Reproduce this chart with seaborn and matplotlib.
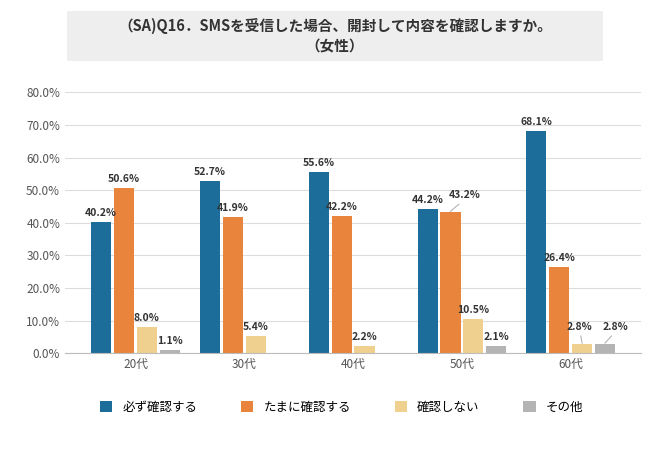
import matplotlib
matplotlib.use("Agg")
import matplotlib.pyplot as plt
import seaborn as sns
import pandas as pd
from matplotlib.patches import FancyBboxPatch

plt.rcParams["font.family"] = "Noto Sans CJK JP"

ages = ["20代", "30代", "40代", "50代", "60代"]
series = ["必ず確認する", "たまに確認する", "確認しない", "その他"]
v_must = [40.2, 52.7, 55.6, 44.2, 68.1]
v_some = [50.6, 41.9, 42.2, 43.2, 26.4]
v_no = [8.0, 5.4, 2.2, 10.5, 2.8]
v_other = [1.1, 0, 0, 2.1, 2.8]
colors = ["#1c6d99", "#e8843c", "#efd08e", "#b4b4b4"]

rows = []
for s, vals in zip(series, [v_must, v_some, v_no, v_other]):
    for a, v in zip(ages, vals):
        rows.append({"age": a, "series": s, "value": v})
df = pd.DataFrame(rows)

fig = plt.figure(figsize=(6.7, 4.5), dpi=100)
ax = fig.add_axes([0.097, 0.215, 0.86, 0.58])
sns.barplot(data=df, x="age", y="value", hue="series", palette=colors,
            ax=ax, width=0.84, gap=0.12, legend=True, saturation=1)

# label shifts (series index, age index) -> (dx, dy) with leader line
shifts = {(1, 3): (0.13, 2.5), (2, 4): (-0.02, 2.5), (3, 4): (0.1, 2.5)}
for si, cont in enumerate(ax.containers):
    for ai, bar in enumerate(cont):
        h = bar.get_height()
        if h <= 0:
            continue
        cx = bar.get_x() + bar.get_width() / 2
        dx, dy = shifts.get((si, ai), (0, 0))
        if dx or dy:
            ax.plot([cx, cx + dx * 0.6], [h + 0.3, h + dy], color="#aaaaaa", lw=0.7)
        ax.text(cx + dx, h + 1.2 + dy, f"{h:.1f}%",
                ha="center", va="bottom", fontsize=7.5, fontweight="bold", color="#333333")

ax.set_ylim(0, 80)
ax.set_yticks(range(0, 81, 10))
ax.set_yticklabels([f"{v:.1f}%" for v in range(0, 81, 10)], fontsize=8.5, color="#555555")
ax.tick_params(axis="x", labelsize=8.5, colors="#555555", length=0)
ax.tick_params(axis="y", length=0)
ax.set_xlabel("")
ax.set_ylabel("")
ax.grid(axis="y", color="#dddddd", linewidth=0.8)
ax.set_axisbelow(True)
for s in ["top", "right", "left"]:
    ax.spines[s].set_visible(False)
ax.spines["bottom"].set_color("#bbbbbb")

handles, labels = ax.get_legend_handles_labels()
ax.legend(handles, labels, loc="upper center", bbox_to_anchor=(0.48, -0.14), ncol=4,
          frameon=False, fontsize=9, handlelength=1.0, handleheight=1.0, columnspacing=3.5)

box = FancyBboxPatch((0.1, 0.865), 0.80, 0.11, transform=fig.transFigure,
                     boxstyle="square,pad=0", facecolor="#eeeeee", edgecolor="none")
fig.patches.append(box)
fig.text(0.5, 0.92, "（SA)Q16．SMSを受信した場合、開封して内容を確認しますか。\n（女性）",
         ha="center", va="center", fontsize=10.5, fontweight="bold", color="#333333",
         linespacing=1.4)

fig.savefig("out.png", dpi=100, facecolor="white")
